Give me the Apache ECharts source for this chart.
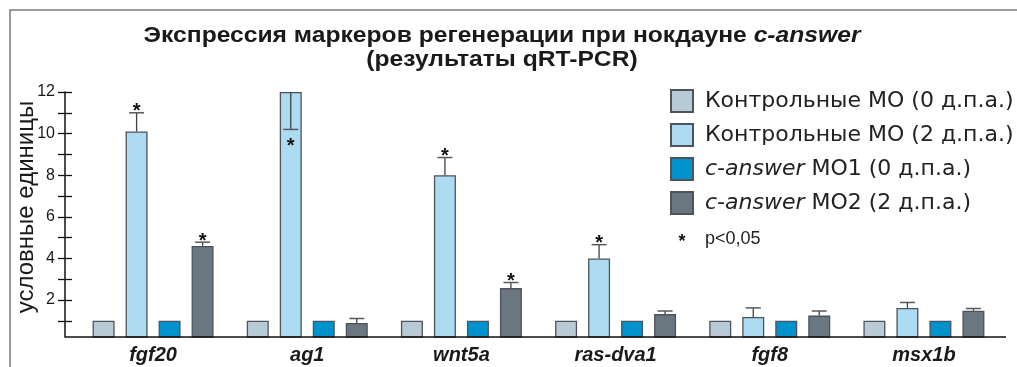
<!DOCTYPE html>
<html>
<head>
<meta charset="utf-8">
<script src="https://cdn.jsdelivr.net/npm/echarts@6/dist/echarts.min.js"></script>
<style>
  html, body { margin: 0; padding: 0; background: #fff; }
  #chart { width: 1017px; height: 367px; }
</style>
</head>
<body>
<div id="chart"></div>
<script>
// Genes measured by qRT-PCR
const categories = ['fgf20', 'ag1', 'wnt5a', 'ras-dva1', 'fgf8', 'msx1b'];

// Relative expression (arbitrary units) and error bar sizes per group
const ctrl0 = [1, 1, 1, 1, 1, 1];
const ctrl0Err = [0, 0, 0, 0, 0, 0];
const ctrl2 = [10.1, 12, 8.0, 4.0, 1.18, 1.62];
const ctrl2Err = [0.9, -1.8, 0.85, 0.66, 0.44, 0.26];
const mo1 = [1, 1, 1, 1, 1, 1];
const mo1Err = [0, 0, 0, 0, 0, 0];
const mo2 = [4.6, 0.89, 2.57, 1.32, 1.25, 1.48];
const mo2Err = [0.18, 0.22, 0.27, 0.15, 0.22, 0.11];

// Significance marks (p<0,05)
const ctrl2Sig = [1, 1, 1, 1, 0, 0];
const mo2Sig = [1, 0, 1, 0, 0, 0];
const noSig = [0, 0, 0, 0, 0, 0];

// Axis ticks and labels
const yTicks = [1, 2, 3, 4, 5, 6, 7, 8, 9, 10, 11, 12];
const yLabels = [2, 4, 6, 8, 10, 12];

const seriesNames = [
  'Контрольные МО (0 д.п.а.)',
  'Контрольные МО (2 д.п.а.)',
  'c-answer МО1 (0 д.п.а.)',
  'c-answer МО2 (2 д.п.а.)'
];
const colors = ['#b9cad7', '#addbf1', '#0092cc', '#6b7780'];

const FONT = '"Liberation Sans", Arial, sans-serif';
const WIDE_FONT = '"DejaVu Sans", sans-serif';
const BAR_W = 22;
const BAR_GAP = 11;
const GRID = { left: 76, right: 16, top: 92, bottom: 30 };

const groups = [
  { v: ctrl0, e: ctrl0Err, s: noSig },
  { v: ctrl2, e: ctrl2Err, s: ctrl2Sig },
  { v: mo1, e: mo1Err, s: noSig },
  { v: mo2, e: mo2Err, s: mo2Sig }
];

const errData = [];
groups.forEach((g, k) => {
  g.v.forEach((val, i) => {
    if (g.e[i] !== 0) errData.push([i, val, g.e[i], g.s[i], k]);
  });
});

const barSeries = groups.map((g, k) => ({
  name: seriesNames[k],
  type: 'bar',
  data: g.v,
  barWidth: BAR_W,
  barGap: (BAR_GAP / BAR_W * 100) + '%',
  itemStyle: { color: colors[k], borderColor: '#4d5358', borderWidth: 1.3 },
  emphasis: { disabled: true },
  z: 2
}));

function renderErr(params, api) {
  const i = api.value(0), v = api.value(1), e = api.value(2);
  const sig = api.value(3), k = api.value(4);
  const dx = (k - 1.5) * (BAR_W + BAR_GAP);
  const base = api.coord([i, v]);
  const end = api.coord([i, v + e]);
  const x = base[0] + dx;
  const children = [
    { type: 'line', shape: { x1: x, y1: base[1], x2: x, y2: end[1] },
      style: { stroke: '#3c4246', lineWidth: 1.3 } },
    { type: 'line', shape: { x1: x - 7.5, y1: end[1], x2: x + 7.5, y2: end[1] },
      style: { stroke: '#55595d', lineWidth: 1.5 } }
  ];
  if (sig) {
    const up = e > 0;
    children.push({
      type: 'text',
      style: {
        text: '*', x: x, y: up ? end[1] - 1 : end[1] + 17,
        align: 'center', verticalAlign: 'middle',
        font: 'bold 20px ' + FONT, fill: '#111'
      }
    });
  }
  return { type: 'group', children: children };
}

const chart = echarts.init(document.getElementById('chart'), null, { renderer: 'canvas' });

chart.setOption({
  animation: false,
  textStyle: { fontFamily: FONT },
  grid: Object.assign({ outerBoundsMode: 'none', containLabel: false }, GRID),
  graphic: [
    { type: 'polyline', shape: { points: [[10, 367], [10, 10], [1017, 10]] },
      style: { stroke: '#7a7a7a', lineWidth: 1.5, fill: null } },
    { type: 'line', shape: { x1: 65, y1: 367 - GRID.bottom, x2: 1006, y2: 367 - GRID.bottom },
      style: { stroke: '#111', lineWidth: 1.5 }, z: 10 },
    { type: 'text', x: 502, y: 36, scaleX: 1.12,
      style: {
        text: '{b|Экспрессия маркеров регенерации при нокдауне }{bi|c-answer}',
        x: 0, y: 0, align: 'center', verticalAlign: 'middle',
        rich: {
          b: { fontSize: 22, fontWeight: 'bold', fontFamily: FONT, fill: '#1a1a1a' },
          bi: { fontSize: 22, fontWeight: 'bold', fontStyle: 'italic', fontFamily: FONT, fill: '#1a1a1a' }
        }
      } },
    { type: 'text', x: 502, y: 60, scaleX: 1.12,
      style: {
        text: '(результаты qRT-PCR)',
        x: 0, y: 0, align: 'center', verticalAlign: 'middle',
        font: 'bold 22px ' + FONT, fill: '#1a1a1a'
      } },
    { type: 'text', x: 682, y: 242,
      style: { text: '*', align: 'center', verticalAlign: 'middle',
        font: 'bold 18px ' + FONT, fill: '#111' } },
    { type: 'text', x: 705, y: 239,
      style: { text: 'p<0,05', align: 'left', verticalAlign: 'middle',
        font: '18px ' + FONT, fill: '#222' } }
  ],
  legend: {
    data: seriesNames,
    orient: 'vertical',
    left: 665,
    top: 84,
    itemWidth: 22,
    itemHeight: 22,
    itemGap: 10,
    selectedMode: false,
    icon: 'rect',
    formatter: function (name) {
      return name.indexOf('c-answer') === 0
        ? '{i|c-answer}{n|' + name.slice(8) + '}'
        : '{n|' + name + '}';
    },
    textStyle: {
      fontSize: 22, lineHeight: 22, color: '#222', padding: [0, 0, 0, 7], fontFamily: WIDE_FONT,
      rich: {
        n: { fontSize: 22, lineHeight: 22, color: '#222', fontFamily: WIDE_FONT },
        i: { fontSize: 22, lineHeight: 22, color: '#222', fontFamily: WIDE_FONT, fontStyle: 'italic' }
      }
    }
  },
  xAxis: {
    type: 'category',
    data: categories,
    axisLine: { show: false },
    axisTick: { show: false },
    axisLabel: {
      fontSize: 20, fontWeight: 'bold', fontStyle: 'italic',
      color: '#1a1a1a', margin: 8
    }
  },
  yAxis: [
    {
      type: 'value',
      min: 0.22,
      max: 12,
      offset: 11,
      name: 'условные единицы',
      nameLocation: 'middle',
      nameGap: 27,
      nameRotate: 90,
      nameMoveOverlap: false,
      nameTextStyle: { fontSize: 24, color: '#1a1a1a', padding: [0, 0, 0, 15] },
      splitLine: { show: false },
      axisLine: { show: true, lineStyle: { color: '#111', width: 1.5 } },
      axisTick: { show: true, customValues: yTicks, length: 7,
        lineStyle: { color: '#111', width: 1.3 } },
      axisLabel: { customValues: yLabels, fontSize: 16, color: '#1a1a1a', margin: 10 }
    },
    {
      type: 'value',
      min: 0.22,
      max: 12,
      offset: 11,
      position: 'left',
      splitLine: { show: false },
      axisLine: { show: false },
      axisTick: { show: true, inside: true, customValues: yTicks, length: 7,
        lineStyle: { color: '#111', width: 1.3 } },
      axisLabel: { show: false }
    }
  ],
  series: barSeries.concat([{
    type: 'custom',
    name: 'err',
    renderItem: renderErr,
    data: errData,
    encode: { x: 0, y: 1 },
    z: 5,
    silent: true
  }])
});
</script>
</body>
</html>
